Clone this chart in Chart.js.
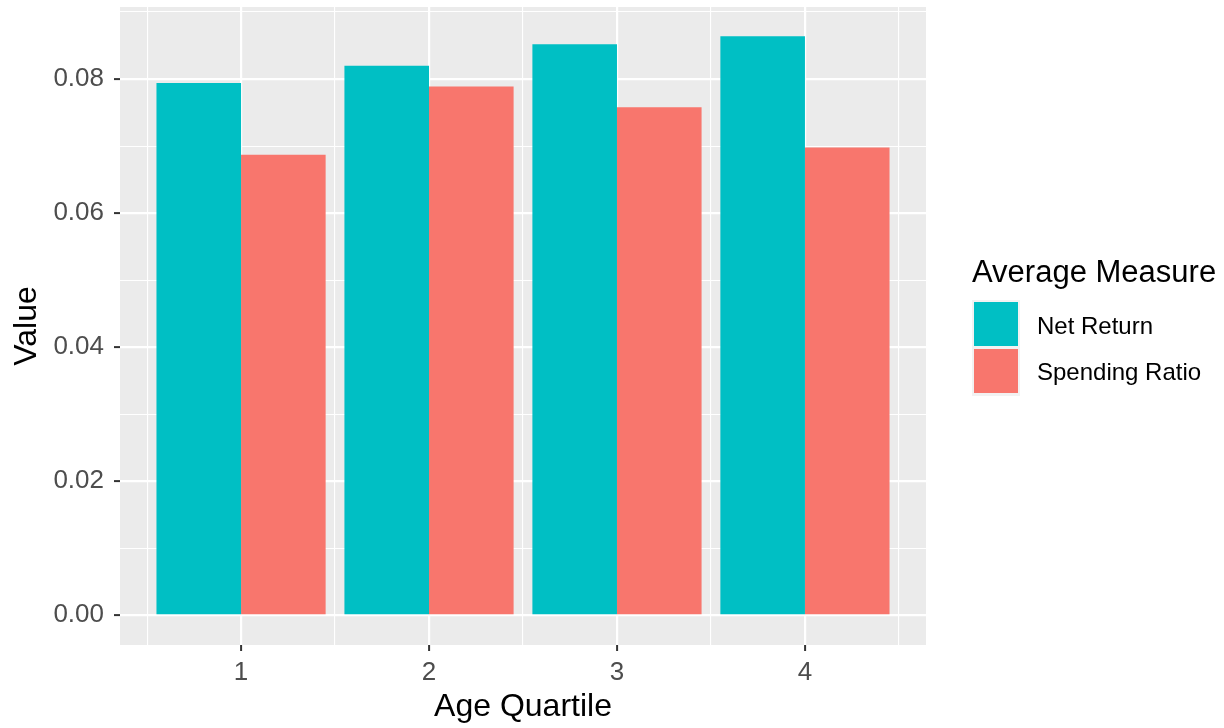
<!DOCTYPE html>
<html>
<head>
<meta charset="utf-8">
<script src="https://cdn.jsdelivr.net/npm/chart.js@4"></script>
<style>
  body { margin: 0; background: #fff; font-family: "Liberation Sans", Arial, sans-serif; }
  #wrap { position: relative; width: 1224px; height: 728px; }
  .leg-title { position: absolute; left: 972px; top: 254px; font-size: 31px; color: #000; line-height: 36px; white-space: nowrap; }
  .leg-keys { position: absolute; left: 972px; top: 300px; width: 48px; height: 96px; background: #f2f2f2; }
  .leg-key { position: absolute; left: 2px; width: 44px; height: 44px; }
  .leg-label { position: absolute; left: 1037px; font-size: 24px; color: #000; line-height: 28px; white-space: nowrap; }
</style>
</head>
<body>
<div id="wrap">
  <canvas id="chart"></canvas>
  <div class="leg-title">Average Measure</div>
  <div class="leg-keys">
    <div class="leg-key" style="top:2px;background:#00BFC4"></div>
    <div class="leg-key" style="top:49px;background:#F8766D"></div>
  </div>
  <div class="leg-label" style="top:312px">Net Return</div>
  <div class="leg-label" style="top:358px">Spending Ratio</div>
</div>
<script>
// Données
const quartiles = [1, 2, 3, 4];
const netReturn = [0.0794, 0.0820, 0.0852, 0.0864];
const spendingRatio = [0.0687, 0.0789, 0.0758, 0.0698];

// Graduations (majeures avec étiquette, mineures sans)
const xMajorTicks = [1, 2, 3, 4];
const xMinorTicks = [0.5, 1.5, 2.5, 3.5, 4.5];
const yMajorTicks = [0, 0.02, 0.04, 0.06, 0.08];
const yMinorTicks = [0.01, 0.03, 0.05, 0.07, 0.09];

Chart.defaults.font.family = '"Liberation Sans", Arial, sans-serif';

const isMajor = (list, v) => list.some(t => Math.abs(t - v) < 1e-9);

// Fond gris du panneau
const panelBackground = {
    id: 'panelBackground',
    beforeDraw(chart) {
        const { ctx, chartArea: a } = chart;
        ctx.save();
        ctx.fillStyle = '#EBEBEB';
        ctx.fillRect(a.left, a.top, a.right - a.left, a.bottom - a.top);
        ctx.restore();
    }
};

const ctx = document.getElementById('chart').getContext('2d');

new Chart(ctx, {
    type: 'bar',
    data: {
        datasets: [
            {
                label: 'Net Return',
                data: quartiles.map((q, i) => ({ x: q, y: netReturn[i] })),
                backgroundColor: '#00BFC4',
                borderWidth: 0
            },
            {
                label: 'Spending Ratio',
                data: quartiles.map((q, i) => ({ x: q, y: spendingRatio[i] })),
                backgroundColor: '#F8766D',
                borderWidth: 0
            }
        ]
    },
    options: {
        responsive: true,
        maintainAspectRatio: false,
        animation: false,
        // les graduations mineures (pas de 0.5) fixent la largeur de référence : 1.8 x 0.5 = 0.9
        categoryPercentage: 1.8,
        barPercentage: 1.0,
        layout: { padding: { left: 0, top: 7, right: 298, bottom: 0 } },
        plugins: {
            legend: { display: false },
            tooltip: { enabled: false }
        },
        scales: {
            x: {
                type: 'linear',
                offset: false,
                min: 0.356,
                max: 4.644,
                afterBuildTicks(scale) {
                    scale.ticks = xMinorTicks.concat(xMajorTicks).sort((a, b) => a - b).map(v => ({ value: v }));
                },
                afterFit(scale) {
                    scale.height = 83;
                    scale.paddingLeft = 0;
                    scale.paddingRight = 0;
                },
                ticks: {
                    autoSkip: false,
                    maxRotation: 0,
                    padding: 6,
                    color: '#4D4D4D',
                    font: { size: 26 },
                    callback: v => isMajor(xMajorTicks, v) ? String(v) : ''
                },
                grid: {
                    offset: false,
                    color: '#FFFFFF',
                    lineWidth: c => isMajor(xMajorTicks, c.tick.value) ? 2.2 : 1.1,
                    tickColor: c => isMajor(xMajorTicks, c.tick.value) ? '#333333' : 'rgba(0,0,0,0)',
                    tickLength: 6,
                    tickWidth: 2
                },
                border: { display: false },
                title: {
                    display: true,
                    text: 'Age Quartile',
                    color: '#000',
                    font: { size: 32 },
                    padding: { top: 0, bottom: 2 }
                }
            },
            y: {
                min: -0.00443,
                max: 0.09075,
                afterBuildTicks(scale) {
                    scale.ticks = yMajorTicks.concat(yMinorTicks).sort((a, b) => a - b).map(v => ({ value: v }));
                },
                afterFit(scale) {
                    scale.width = 120;
                    scale.paddingTop = 0;
                    scale.paddingBottom = 0;
                },
                ticks: {
                    autoSkip: false,
                    padding: 10,
                    color: '#4D4D4D',
                    font: { size: 26 },
                    callback: v => isMajor(yMajorTicks, v) ? v.toFixed(2) : ''
                },
                grid: {
                    color: '#FFFFFF',
                    lineWidth: c => isMajor(yMajorTicks, c.tick.value) ? 2.2 : 1.1,
                    tickColor: c => isMajor(yMajorTicks, c.tick.value) ? '#333333' : 'rgba(0,0,0,0)',
                    tickLength: 6,
                    tickWidth: 2
                },
                border: { display: false },
                title: {
                    display: true,
                    text: 'Value',
                    color: '#000',
                    font: { size: 32 },
                    padding: { top: 8, bottom: 0 }
                }
            }
        }
    },
    plugins: [panelBackground]
});
</script>
</body>
</html>
